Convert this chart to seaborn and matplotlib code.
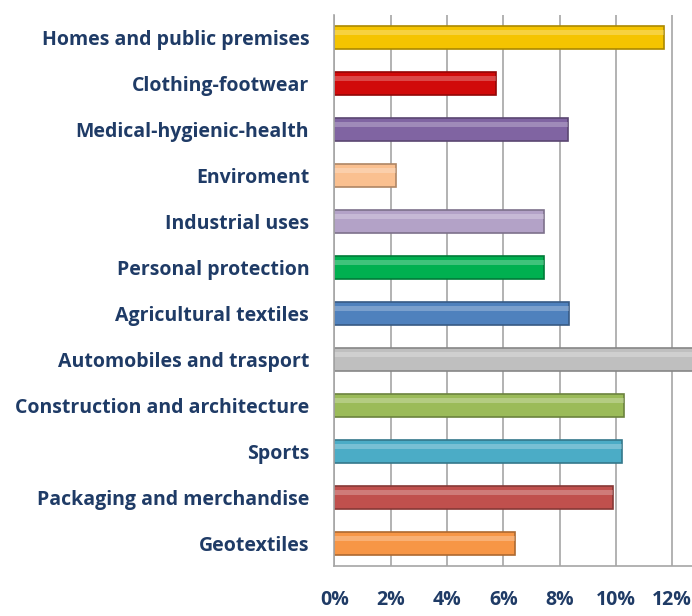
import matplotlib.pyplot as plt
import seaborn as sns
import pandas as pd
import numpy as np

# categories top to bottom, share in percent
categories = ['Homes and public premises', 'Clothing-footwear', 'Medical-hygienic-health',
              'Enviroment', 'Industrial uses', 'Personal protection', 'Agricultural textiles',
              'Automobiles and trasport', 'Construction and architecture', 'Sports',
              'Packaging and merchandise', 'Geotextiles']
shares = [11.7, 5.75, 8.3, 2.2, 7.45, 7.45, 8.35, 13.5, 10.3, 10.2, 9.9, 6.4]
bar_colors = ['#F5C400', '#D10A0A', '#8064A2', '#FAC090', '#B3A2C7', '#00B050',
              '#4F81BD', '#BFBFBF', '#9BBB59', '#4BACC6', '#C0504D', '#F79646']
xticks = [0, 2, 4, 6, 8, 10, 12]

df = pd.DataFrame({'category': categories, 'share': shares})

sns.set_style("white")
plt.rcParams['font.family'] = ['Open Sans', 'DejaVu Sans']
label_color = '#1F3B66'

fig = plt.figure(figsize=(6.92, 6.16), dpi=100)
ax = fig.add_axes([0.483, 0.081, 0.517, 0.895])

sns.barplot(data=df, x='share', y='category', hue='category', palette=bar_colors,
            legend=False, width=0.5, ax=ax, edgecolor='none', saturation=1)

# darker edge + light highlight to fake the cylinder look
for patch in ax.patches:
    c = np.array(patch.get_facecolor()[:3])
    patch.set_edgecolor(tuple(c * 0.7))
    patch.set_linewidth(1.2)
    x, y = patch.get_x(), patch.get_y()
    w, h = patch.get_width(), patch.get_height()
    ax.add_patch(plt.Rectangle((x, y + h * 0.18), w, h * 0.22, color='white',
                               alpha=0.25, linewidth=0, zorder=patch.get_zorder() + 0.1))

ax.set_xlim(0, 12.7)
ax.set_xticks(xticks)
ax.set_xticklabels([f'{t}%' for t in xticks])
ax.xaxis.grid(True, color='#A6A6A6', linewidth=1.2)
ax.set_axisbelow(True)
ax.set(xlabel='', ylabel='')

for side in ['top', 'right']:
    ax.spines[side].set_visible(False)
for side in ['left', 'bottom']:
    ax.spines[side].set_color('#A6A6A6')
    ax.spines[side].set_linewidth(1.2)

ax.tick_params(axis='y', length=5, color='#A6A6A6', pad=13, labelsize=14,
               labelcolor=label_color)
ax.tick_params(axis='x', length=5, color='#A6A6A6', pad=12, labelsize=14,
               labelcolor=label_color)
for lab in ax.get_yticklabels() + ax.get_xticklabels():
    lab.set_fontweight('bold')

fig.savefig('out.png', dpi=100)
